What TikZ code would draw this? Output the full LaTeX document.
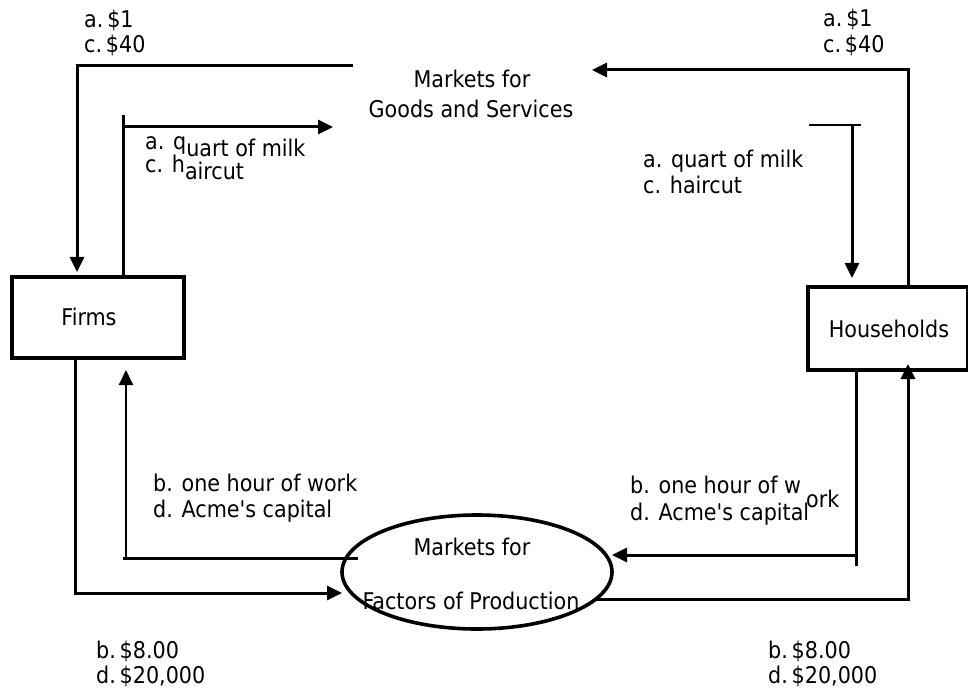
\documentclass[tikz,border=0pt]{standalone}
\usepackage{fontspec}
\setmainfont{DejaVu Sans Condensed}
\usetikzlibrary{arrows.meta,shapes.geometric}
\begin{document}
\begin{tikzpicture}[x=1pt,y=-1pt,
  lbl/.style={inner sep=0pt,anchor=base west,font=\fontsize{23}{28}\selectfont},
  ctr/.style={inner sep=0pt,anchor=base,font=\fontsize{23}{28}\selectfont},
  box/.style={draw,line width=3.4pt,inner sep=0pt},
  flow/.style={line width=3pt},
  thin/.style={line width=2pt},
  tip/.style={-{Triangle[length=15pt,width=14pt]}}]
\useasboundingbox (0,0) rectangle (968,692);
% boxes
\node[box,minimum width=172pt,minimum height=81pt] (firms) at (98,317.5) {};
\node[ctr] at (89,325) {Firms};
\node[box,minimum width=160pt,minimum height=83pt] (hh) at (888,328.5) {};
\node[ctr] at (889,337) {Households};
\node[draw,ellipse,line width=3.6pt,minimum width=270pt,minimum height=114pt,inner sep=0pt] (fop) at (477,572) {};
\node[ctr] (fop1) at (472,555) {Markets for};
\node[ctr] (fop2) at (471,609) {Factors of Production};
\node[ctr] (gs1) at (472,88) {Markets for};
\node[ctr] (gs2) at (471,118) {Goods and Services};
% coordinates
\coordinate (tl1) at (353,66); \coordinate (tl2) at (77,66); \coordinate (tl3) at (77,272);
\coordinate (fa) at (123,277); \coordinate (fb) at (123,115);
\coordinate (fc) at (123,127); \coordinate (fd) at (333,127);
\coordinate (tr1) at (908,287); \coordinate (tr2) at (908,70); \coordinate (tr3) at (592,70);
\coordinate (ha) at (809,125); \coordinate (hb) at (861,125);
\coordinate (hc) at (852,125); \coordinate (hd) at (852,278);
\coordinate (he) at (856,370); \coordinate (hf) at (856,566);
\coordinate (hg) at (856,555); \coordinate (hh2) at (612,555);
\coordinate (hi) at (596,599); \coordinate (hj) at (908,599); \coordinate (hk) at (908,364);
\coordinate (la) at (75,358); \coordinate (lb) at (75,593); \coordinate (lc) at (342,593);
\coordinate (ld) at (123,558); \coordinate (le) at (358,558);
\coordinate (lf) at (126,558); \coordinate (lg) at (126,370);
% connectors
\draw[flow,tip] (tl1) -- (tl2) -- (tl3);
\draw[flow] (fa) -- (fb);
\draw[flow,tip] (fc) -- (fd);
\draw[flow,tip] (tr1) -- (tr2) -- (tr3);
\draw[thin] (ha) -- (hb);
\draw[flow,tip] (hc) -- (hd);
\draw[flow] (he) -- (hf);
\draw[flow,tip] (hg) -- (hh2);
\draw[flow,tip] (hi) -- (hj) -- (hk);
\draw[flow,tip] (la) -- (lb) -- (lc);
\draw[flow] (ld) -- (le);
\draw[thin,tip] (lf) -- (lg);
% labels
\node[lbl] (t1) at (84,28) {a.\,\$1};
\node[lbl] (t2) at (84,53) {c.\,\$40};
\node[lbl] (t3) at (823,27) {a.\,\$1};
\node[lbl] (t4) at (823,53) {c.\,\$40};
\node[lbl] (m1) at (145,150) {a. q\raisebox{-7pt}{uart of milk}};
\node[lbl] (m2) at (145,173) {c. h\raisebox{-7pt}{aircut}};
\node[lbl] (m3) at (643,168) {a. quart of milk};
\node[lbl] (m4) at (643,194) {c. haircut};
\node[lbl] (w1) at (153,491) {b. one hour of work};
\node[lbl] (w2) at (153,517) {d. Acme\textquotesingle s capital};
\node[lbl] (w3) at (630,493) {b. one hour of w\hspace{5pt}\raisebox{-14pt}{ork}};
\node[lbl] (w4) at (630,520) {d. Acme\textquotesingle s capital};
\node[lbl] (p1) at (96,658) {b.\,\$8.00};
\node[lbl] (p2) at (96,683) {d.\,\$20,000};
\node[lbl] (p3) at (768,658) {b.\,\$8.00};
\node[lbl] (p4) at (768,683) {d.\,\$20,000};
\end{tikzpicture}
\end{document}
